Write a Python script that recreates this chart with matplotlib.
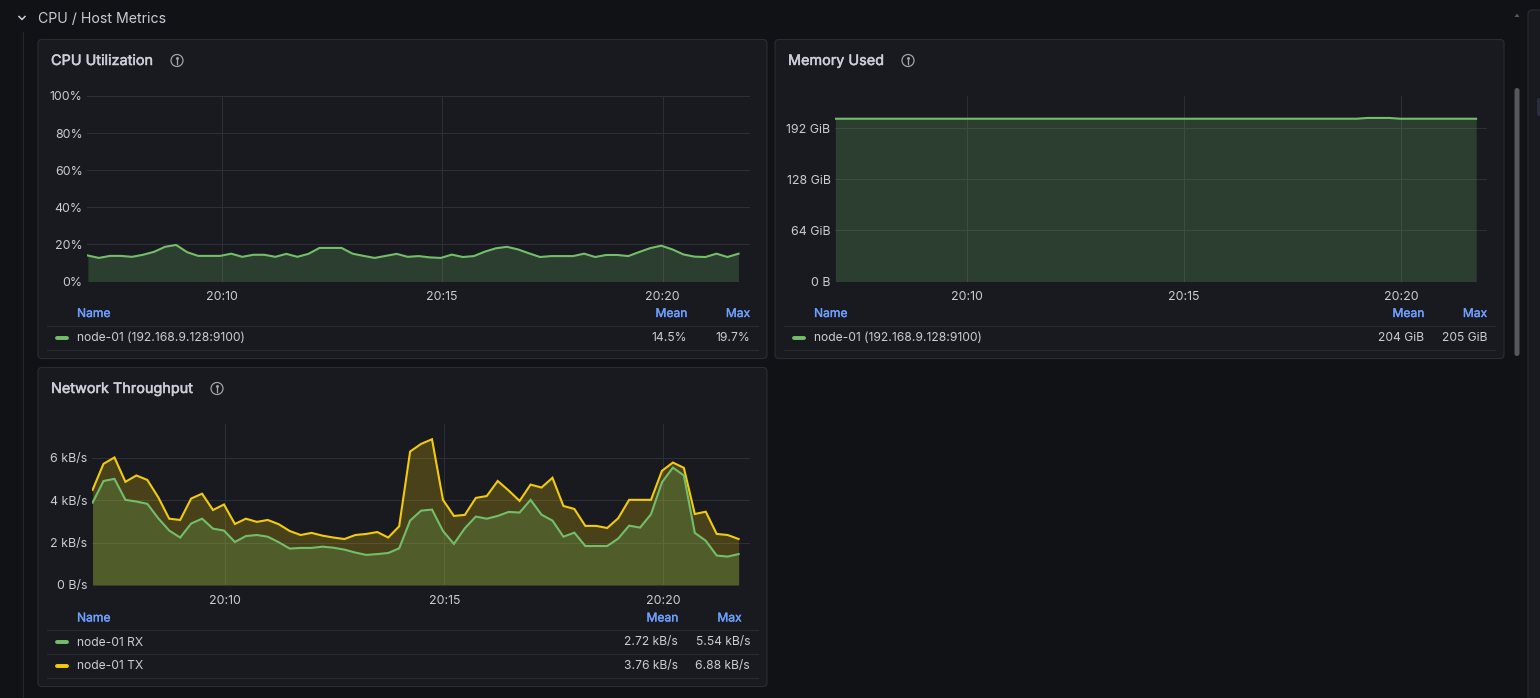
"""Host metrics dashboard section: CPU, memory and network time series panels."""

import numpy as np
import matplotlib
matplotlib.use("Agg")
import matplotlib.pyplot as plt
import matplotlib.patheffects as pe
from matplotlib.patches import Circle, FancyBboxPatch

W, H = 1540, 698

# ---- data ------------------------------------------------------------------
cpu_pct = [14.0, 12.7, 13.8, 13.8, 13.3, 14.4, 16.0, 18.7, 19.7, 15.8,
           13.8, 13.8, 13.8, 15.0, 13.3, 14.4, 14.4, 13.3, 14.9, 13.3,
           14.9, 18.1, 18.1, 18.1, 15.0, 13.8, 12.7, 13.8, 14.9, 13.3,
           13.7, 13.0, 12.7, 14.5, 13.2, 13.7, 16.1, 17.9, 18.7, 17.3,
           15.2, 13.2, 13.7, 13.7, 13.7, 15.0, 13.2, 14.3, 14.3, 13.7,
           15.9, 18.0, 19.3, 17.3, 14.6, 13.4, 13.2, 15.0, 13.2, 15.0]
mem_gib = [204, 204, 204, 204, 204, 204, 204, 204, 204, 204,
           204, 204, 204, 204, 204, 204, 204, 204, 204, 204,
           204, 204, 204, 204, 204, 204, 204, 204, 204, 204,
           204, 204, 204, 204, 204, 204, 204, 204, 204, 204,
           204, 204, 204, 204, 204, 204, 204, 204, 204, 205,
           205, 205, 204, 204, 204, 204, 204, 204, 204, 204]
rx_kbs = [3.89, 4.91, 5.01, 4.02, 3.94, 3.83, 3.15, 2.57, 2.24, 2.90,
          3.13, 2.66, 2.57, 2.03, 2.31, 2.36, 2.28, 2.02, 1.72, 1.75,
          1.75, 1.81, 1.76, 1.67, 1.53, 1.42, 1.46, 1.51, 1.73, 3.04,
          3.51, 3.56, 2.55, 1.94, 2.68, 3.23, 3.13, 3.26, 3.45, 3.42,
          4.02, 3.32, 3.04, 2.28, 2.47, 1.84, 1.84, 1.84, 2.19, 2.80,
          2.71, 3.34, 4.85, 5.54, 5.17, 2.46, 2.09, 1.39, 1.34, 1.46]
tx_kbs = [4.49, 5.72, 6.02, 4.87, 5.17, 4.96, 4.14, 3.13, 3.07, 4.08,
          4.31, 3.54, 3.80, 2.88, 3.13, 2.98, 3.07, 2.87, 2.55, 2.36,
          2.46, 2.33, 2.24, 2.17, 2.36, 2.41, 2.50, 2.24, 2.77, 6.30,
          6.66, 6.88, 4.02, 3.26, 3.31, 4.11, 4.20, 4.91, 4.46, 3.97,
          4.74, 4.60, 5.06, 3.73, 3.59, 2.79, 2.79, 2.69, 3.15, 4.02,
          4.02, 4.02, 5.39, 5.78, 5.53, 3.35, 3.46, 2.41, 2.36, 2.17]

time_ticks = [10, 15, 20]
time_labels = ["20:10", "20:15", "20:20"]
cpu_ticks = [0, 20, 40, 60, 80, 100]
cpu_labels = ["0%", "20%", "40%", "60%", "80%", "100%"]
mem_ticks = [0, 64, 128, 192]
mem_labels = ["0 B", "64 GiB", "128 GiB", "192 GiB"]
net_ticks = [0, 2, 4, 6]
net_labels = ["0 B/s", "2 kB/s", "4 kB/s", "6 kB/s"]

# ---- palette ---------------------------------------------------------------
PAGE = "#111216"
PANEL = "#191a1f"
BORDER = "#2b2c31"
GRID = "#2e2f34"
TEXT = "#ccccd6"
TITLE = "#ccced9"
BLUE = "#6e9fff"
GREEN = "#73bf69"
YELLOW = "#f2cc0c"
FONT = "Inter"

plt.rcParams["font.family"] = [FONT, "DejaVu Sans"]
plt.rcParams["font.size"] = 8.7

# Inter only comes in one usable weight here, so headings get a hairline stroke
MEDIUM = [pe.withStroke(linewidth=0.35, foreground=TITLE)]
MEDIUM_BLUE = [pe.withStroke(linewidth=0.25, foreground=BLUE)]

fig = plt.figure(figsize=(W / 100, H / 100), dpi=100, facecolor=PAGE)

# pixel-space canvas for the panel chrome and the legend tables
bg = fig.add_axes([0, 0, 1, 1])
bg.set_xlim(0, W)
bg.set_ylim(H, 0)
bg.axis("off")


def panel(x, y, w, h, title, icon_x):
    bg.add_patch(FancyBboxPatch((x, y), w, h, boxstyle="round,pad=0,rounding_size=4",
                                fc=PANEL, ec=BORDER, lw=0.8))
    bg.text(x + 13, y + 21.5, title, color=TITLE, fontsize=10.4,
            ha="left", va="center", path_effects=MEDIUM)
    cy = y + 21
    bg.add_patch(Circle((icon_x, cy), 6, fc="none", ec="#a6a8b2", lw=0.85))
    bg.plot([icon_x, icon_x], [cy - 0.6, cy + 3], color="#a6a8b2", lw=0.9)
    bg.plot([icon_x], [cy - 2.8], marker="o", ms=1.1, color="#a6a8b2")


def legend_table(x, head_y, rows, head_xs, stat_xs):
    # rows: (swatch colour, name, mean, max)
    left, right = x + 9, x + 720
    for label, hx, ha in (("Name", x + 39, "left"), ("Mean", head_xs[0], "right"),
                          ("Max", head_xs[1], "right")):
        bg.text(hx, head_y + 0.5, label, color=BLUE, ha=ha, va="center",
                path_effects=MEDIUM_BLUE)
    bg.plot([left, right], [head_y + 12] * 2, color=BORDER, lw=0.8)
    for i, (color, name, mean, peak) in enumerate(rows):
        ry = head_y + 24 + i * 23.5
        bg.plot([x + 19, x + 29], [ry, ry], color=color, lw=2.8,
                solid_capstyle="round")
        bg.text(x + 39, ry + 0.5, name, color=TEXT, ha="left", va="center")
        bg.text(stat_xs[0], ry + 0.5, mean, color=TEXT, ha="right", va="center")
        bg.text(stat_xs[1], ry + 0.5, peak, color=TEXT, ha="right", va="center")
        bg.plot([left, right], [ry + 12] * 2, color=BORDER, lw=0.8)


def chart(left, right, top, bottom, xlim, ylim, yticks, ylabels, series):
    ax = fig.add_axes([left / W, 1 - bottom / H, (right - left) / W, (bottom - top) / H])
    ax.patch.set_alpha(0)
    ax.set_xlim(*xlim)
    ax.set_ylim(*ylim)
    for spine in ax.spines.values():
        spine.set_visible(False)
    ax.set_xticks(time_ticks, time_labels)
    ax.set_yticks(yticks, ylabels)
    ax.tick_params(length=0, colors=TEXT, labelsize=8.9)
    ax.tick_params(axis="x", pad=7)
    ax.tick_params(axis="y", pad=3.2)
    ax.grid(True, color=GRID, lw=0.75)
    ax.set_axisbelow(True)
    t = 6.97 + 0.25 * np.arange(60)
    for values, color in series:
        ax.fill_between(t, values, 0, color=color, alpha=0.22, lw=0)
        ax.plot(t, values, color=color, lw=1.5, solid_joinstyle="miter")
    return ax


# ---- section header --------------------------------------------------------
bg.plot([19, 22, 25], [16.5, 19.5, 16.5], color=TEXT, lw=1.1)
bg.text(38, 19.2, "CPU / Host Metrics", color=TEXT, fontsize=10.15, ha="left", va="center")
bg.plot([22.5, 22.5], [32, H], color="#26272c", lw=0.8)

# ---- panels ----------------------------------------------------------------
panel(38, 39.5, 729, 319, "CPU Utilization", 177)
panel(775, 39.5, 729, 319, "Memory Used", 908)
panel(38, 367.5, 729, 319, "Network Throughput", 217)

chart(87, 750, 96, 281.5, (6.95, 21.98), (0, 100), cpu_ticks, cpu_labels,
      [(cpu_pct, GREEN)])
chart(835, 1487, 96, 281.5, (6.962, 21.97), (0, 232.5), mem_ticks, mem_labels,
      [(mem_gib, GREEN)])
chart(92, 750, 424, 585, (6.957, 21.98), (0, 7.6), net_ticks, net_labels,
      [(tx_kbs, YELLOW), (rx_kbs, GREEN)])

legend_table(38, 313.5, [(GREEN, "node-01 (192.168.9.128:9100)", "14.5%", "19.7%")],
             (687, 750), (687, 750))
legend_table(775, 313.5, [(GREEN, "node-01 (192.168.9.128:9100)", "204 GiB", "205 GiB")],
             (1424, 1487), (1424, 1487))
legend_table(38, 618, [(GREEN, "node-01 RX", "2.72 kB/s", "5.54 kB/s"),
                       (YELLOW, "node-01 TX", "3.76 kB/s", "6.88 kB/s")],
             (678, 741.5), (678, 750))

# ---- scrollbar and the neighbouring drawer edge ------------------------------
bg.add_patch(FancyBboxPatch((1514.5, 88), 5, 268, boxstyle="round,pad=0,rounding_size=2.5",
                            fc="#55575c", ec="none"))
bg.fill([1514.5, 1517, 1519.5], [17, 13.5, 17], color="#55575c", lw=0)
bg.add_patch(FancyBboxPatch((1528, 10), 40, 720, boxstyle="round,pad=0,rounding_size=4",
                            fc=PANEL, ec=BORDER, lw=0.8))
bg.add_patch(FancyBboxPatch((1537, 98), 12, 18, boxstyle="round,pad=0,rounding_size=2",
                            fc="#2b2d3d", ec="none"))

fig.savefig("out.png", dpi=100, facecolor=PAGE)
